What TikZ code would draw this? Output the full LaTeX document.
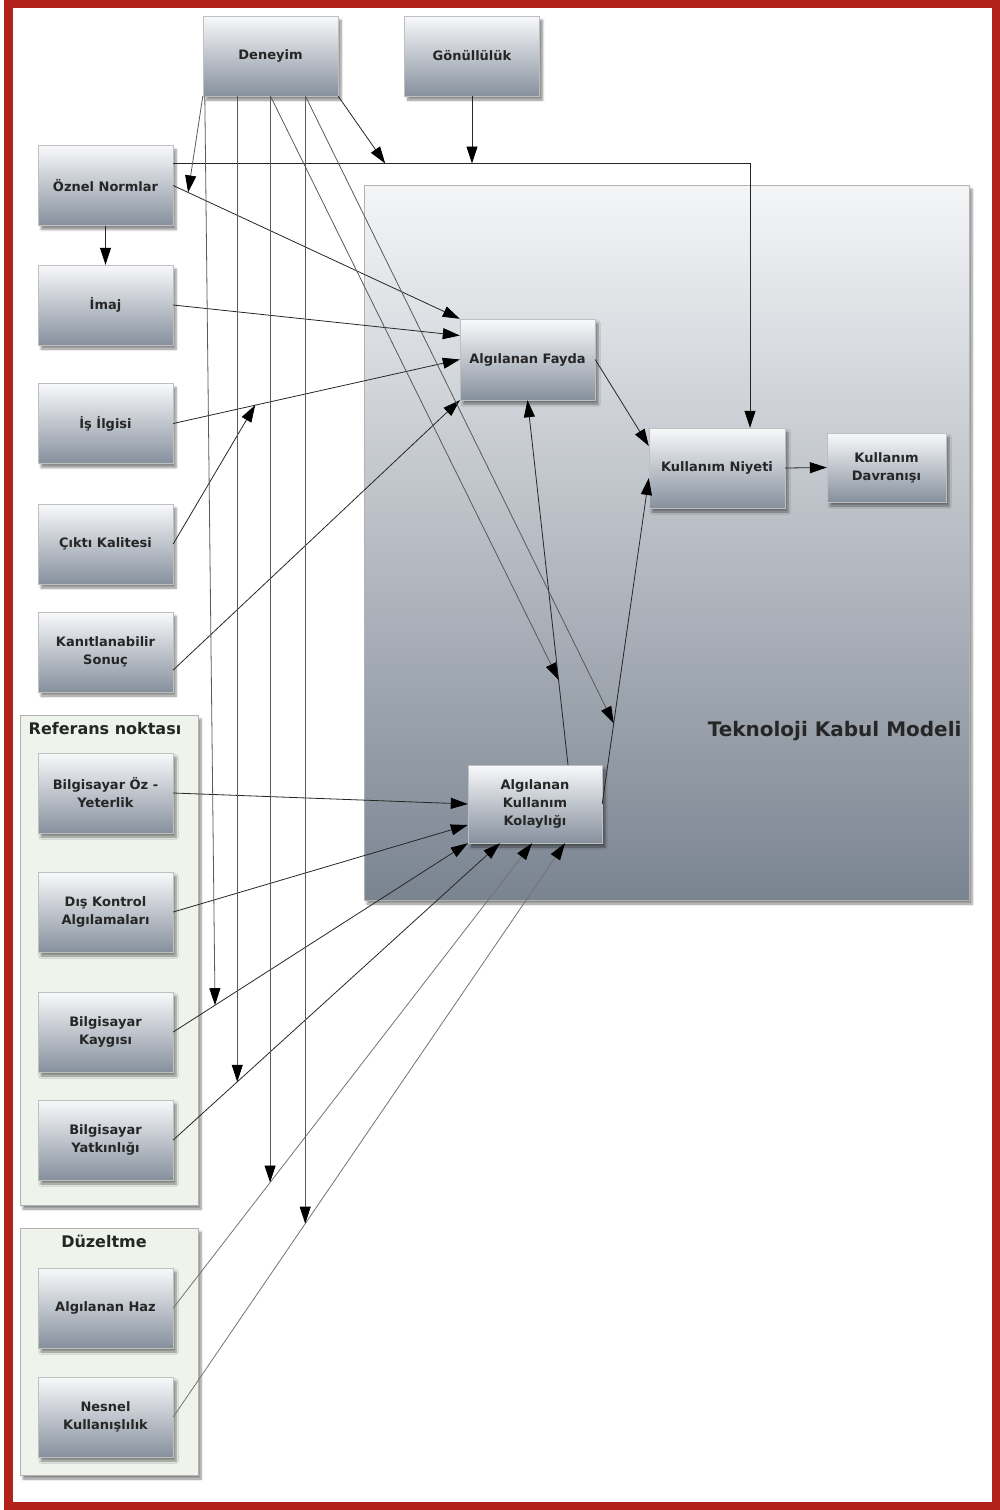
\documentclass[tikz,border=0pt]{standalone}
\usepackage{fontspec}
\setmainfont{DejaVu Sans}
\usepackage{tikz}
\usetikzlibrary{arrows.meta,calc,shadows.blur}
\definecolor{framered}{RGB}{178,34,26}
\definecolor{boxtop}{RGB}{248,249,251}
\definecolor{boxbot}{RGB}{134,144,157}
\definecolor{tkmtop}{RGB}{244,245,247}
\definecolor{tkmbot}{RGB}{122,132,145}
\definecolor{grpfill}{RGB}{238,243,235}

\begin{document}
\begin{tikzpicture}[x=1pt, y=-1pt,
    shd/.style={blur shadow={shadow xshift=3pt, shadow yshift=-4pt, shadow blur steps=6, shadow opacity=45}},
    box/.style={draw=black!25, top color=boxtop, bottom color=boxbot, shd, minimum width=135pt, minimum height=80pt, font=\fontsize{13}{18}\selectfont\bfseries, text=black!85, align=center},
    tkm/.style={draw=black!30, top color=tkmtop, bottom color=tkmbot, shd},
    grp/.style={draw=black!30, fill=grpfill, shd},
    lbl/.style={font=\fontsize{16}{18}\selectfont\bfseries, text=black!85},
    arr/.style={-{Triangle[length=17pt,width=11pt,black]}, line width=0.8pt, draw=black!85},
    modarr/.style={arr, draw=black!65}
]
\useasboundingbox (0,0) rectangle (999,1510);
\draw[line width=9pt, draw=framered] (8.5,3) rectangle (996,1506);

\node[tkm, minimum width=605pt, minimum height=715pt] (tkmbox) at (666.5,542.5) {};
\node[lbl, font=\fontsize{20}{22}\selectfont\bfseries, anchor=east] (tkmlbl) at (965,731) {Teknoloji Kabul Modeli};
\node[grp, minimum width=178pt, minimum height=490pt] (refgrp) at (109,960) {};
\node[lbl] (reflbl) at (105,729) {Referans noktası};
\node[grp, minimum width=178pt, minimum height=247pt] (duzgrp) at (109,1351.5) {};
\node[lbl] (duzlbl) at (104,1241) {Düzeltme};

\node[box] (den) at (270.5,56) {Deneyim};
\node[box] (gon) at (472,56) {Gönüllülük};
\node[box] (oz) at (105.5,185.5) {Öznel Normlar};
\node[box] (imaj) at (105.5,305) {İmaj};
\node[box] (is) at (105.5,423.5) {İş İlgisi};
\node[box] (cikti) at (105.5,544) {Çıktı Kalitesi};
\node[box] (kanit) at (105.5,652) {Kanıtlanabilir\\Sonuç};
\node[box] (boz) at (105.5,793) {Bilgisayar Öz -\\Yeterlik};
\node[box] (dis) at (105.5,912) {Dış Kontrol\\Algılamaları};
\node[box] (kaygi) at (105.5,1032) {Bilgisayar\\Kaygısı};
\node[box] (yatk) at (105.5,1140) {Bilgisayar\\Yatkınlığı};
\node[box] (haz) at (105.5,1308) {Algılanan Haz};
\node[box] (nesnel) at (105.5,1417) {Nesnel\\Kullanışlılık};
\node[box, minimum height=81pt] (af) at (527.5,359.5) {Algılanan Fayda};
\node[box, minimum width=136pt] (kn) at (717,468) {Kullanım Niyeti};
\node[box, minimum width=119pt, minimum height=69pt] (kd) at (886.5,467.5) {Kullanım\\Davranışı};
\node[box, minimum width=134pt, minimum height=78pt] (akk) at (535,804) {Algılanan\\Kullanım\\Kolaylığı};

\draw[arr] (oz.east) -- coordinate[pos=0.052] (m1) (af.north west);
\draw[arr] (imaj.east) -- ([yshift=24pt]af.west);
\draw[arr] (is.east) -- coordinate[pos=0.286] (m2) (af.west);
\draw[arr] ([yshift=-18pt]kanit.east) -- (af.south west);
\draw[arr] (cikti.east) -- (m2);
\draw[arr] (af.east) -- ([yshift=22pt]kn.west);
\draw[arr] ([xshift=33pt]akk.north) -- coordinate[pos=0.233] (m3) (af.south);
\draw[arr] (akk.east) -- coordinate[pos=0.247] (m4) ([yshift=-10pt]kn.west);
\draw[arr] (kn.east) -- (kd.west);
\draw[arr] (oz.south) -- (imaj.north);
\coordinate (hz) at ([yshift=22pt]oz.east);
\draw[arr] (hz) -| ([xshift=33pt]kn.north);
\draw[arr] (gon.south) -- (gon.south |- hz);
\draw[arr] (den.south east) -- ($(den.south east |- hz)+(47,0)$);
\draw[arr] (boz.east) -- (akk.west);
\draw[arr] (dis.east) -- ([yshift=-21pt]akk.west);
\draw[arr] (kaygi.east) -- coordinate[pos=0.142] (m5) (akk.south west);
\draw[arr] (yatk.east) -- coordinate[pos=0.196] (m6) ([xshift=-35pt]akk.south);
\draw[arr, draw=black!55] (haz.east) -- coordinate[pos=0.27] (m7) ([xshift=-3pt]akk.south);
\draw[arr, draw=black!55] (nesnel.east) -- coordinate[pos=0.337] (m8) ([xshift=30pt]akk.south);

\draw[modarr] (den.south west) -- (m1);
\draw[modarr] ([xshift=2pt]den.south west) -- (m5);
\draw[modarr] (m6 |- den.south) -- (m6);
\draw[modarr] (m7 |- den.south) -- (m7);
\draw[modarr] (m8 |- den.south) -- (m8);
\draw[modarr] (den.south) -- (m3);
\draw[modarr] ([xshift=35pt]den.south) -- (m4);
\end{tikzpicture}
\end{document}
